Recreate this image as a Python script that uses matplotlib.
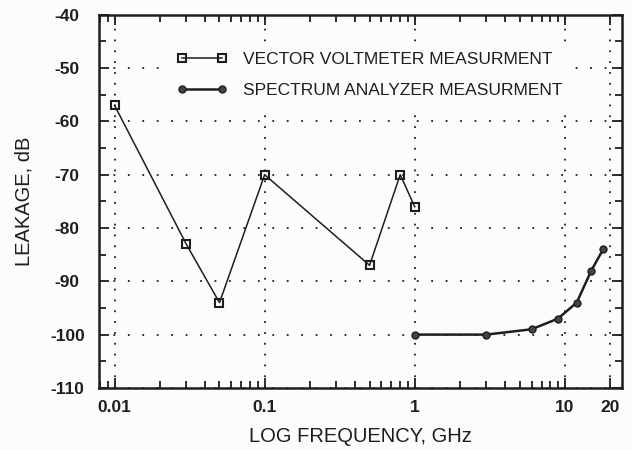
import matplotlib
matplotlib.use("Agg")
import matplotlib.pyplot as plt
from matplotlib.ticker import FixedLocator, LogLocator, MultipleLocator, NullFormatter

plt.rcParams['font.family'] = ['Liberation Sans', 'DejaVu Sans']
plt.rcParams['axes.unicode_minus'] = False

# vector voltmeter points
vv_freq = [0.01, 0.03, 0.05, 0.1, 0.5, 0.8, 1.0]
vv_leak = [-57, -83, -94, -70, -87, -70, -76]

# spectrum analyzer points
sa_freq = [1.0, 3.0, 6.0, 9.0, 12.0, 15.0, 18.0]
sa_leak = [-100, -100, -99, -97, -94, -88, -84]

x_ticks = [0.01, 0.1, 1, 10, 20]
x_labels = ['0.01', '0.1', '1', '10', '20']
y_ticks = [-110, -100, -90, -80, -70, -60, -50, -40]

ink = '#1e1e1e'
paper = '#fcfcfa'

fig = plt.figure(figsize=(6.32, 4.5), dpi=100)
fig.patch.set_facecolor(paper)
ax = fig.add_axes([0.157, 0.138, 0.827, 0.829])
ax.set_facecolor(paper)

ax.plot(vv_freq, vv_leak, color=ink, lw=1.1, marker='s', ms=6,
        mfc='none', mec=ink, mew=1.5,
        label='VECTOR VOLTMETER MEASURMENT')
ax.plot(sa_freq, sa_leak, color=ink, lw=1.8, marker='o', ms=5,
        mfc='#444444', mec=ink, mew=1.0,
        label='SPECTRUM ANALYZER MEASURMENT')

ax.set_xscale('log')
ax.set_xlim(0.0079, 24)
ax.set_ylim(-110, -40)

ax.xaxis.set_major_locator(FixedLocator(x_ticks))
ax.set_xticklabels(x_labels)
ax.xaxis.set_minor_locator(LogLocator(base=10, subs=range(2, 10)))
ax.xaxis.set_minor_formatter(NullFormatter())
ax.set_yticks(y_ticks)
ax.yaxis.set_minor_locator(MultipleLocator(5))

ax.tick_params(which='both', direction='in', top=True, right=True,
               labelsize=12.5, color=ink, labelcolor=ink, width=1.3)
ax.tick_params(which='major', length=7)
ax.tick_params(which='minor', length=5)
ax.tick_params(axis='x', which='major', pad=9)
ax.tick_params(axis='y', which='major', pad=23)
for lab in ax.get_yticklabels():
    lab.set_horizontalalignment('center')
    lab.set_fontweight('semibold')
for lab in ax.get_xticklabels():
    lab.set_fontweight('semibold')
for s in ax.spines.values():
    s.set_linewidth(1.8)
    s.set_color(ink)

ax.xaxis.grid(True, which='major', ls=(0, (1, 5)), color=ink, lw=1.3)
ax.yaxis.grid(True, which='major', ls=(0, (1, 7)), color=ink, lw=1.3)

ax.set_ylabel('LEAKAGE, dB', fontsize=14.5, color=ink, labelpad=12)
ax.set_xlabel('LOG FREQUENCY, GHz', fontsize=14.5, color=ink, labelpad=8)

leg = ax.legend(loc='upper left', bbox_to_anchor=(0.13, 0.927), frameon=True,
                numpoints=2, fontsize=12.5, handlelength=2.9,
                handletextpad=0.9, labelspacing=0.95, borderpad=0.55,
                borderaxespad=0)
leg.get_frame().set_facecolor(paper)
leg.get_frame().set_edgecolor('none')
leg.get_frame().set_alpha(1)
for t in leg.get_texts():
    t.set_color(ink)

fig.savefig('out.png', dpi=100, facecolor=fig.get_facecolor())
